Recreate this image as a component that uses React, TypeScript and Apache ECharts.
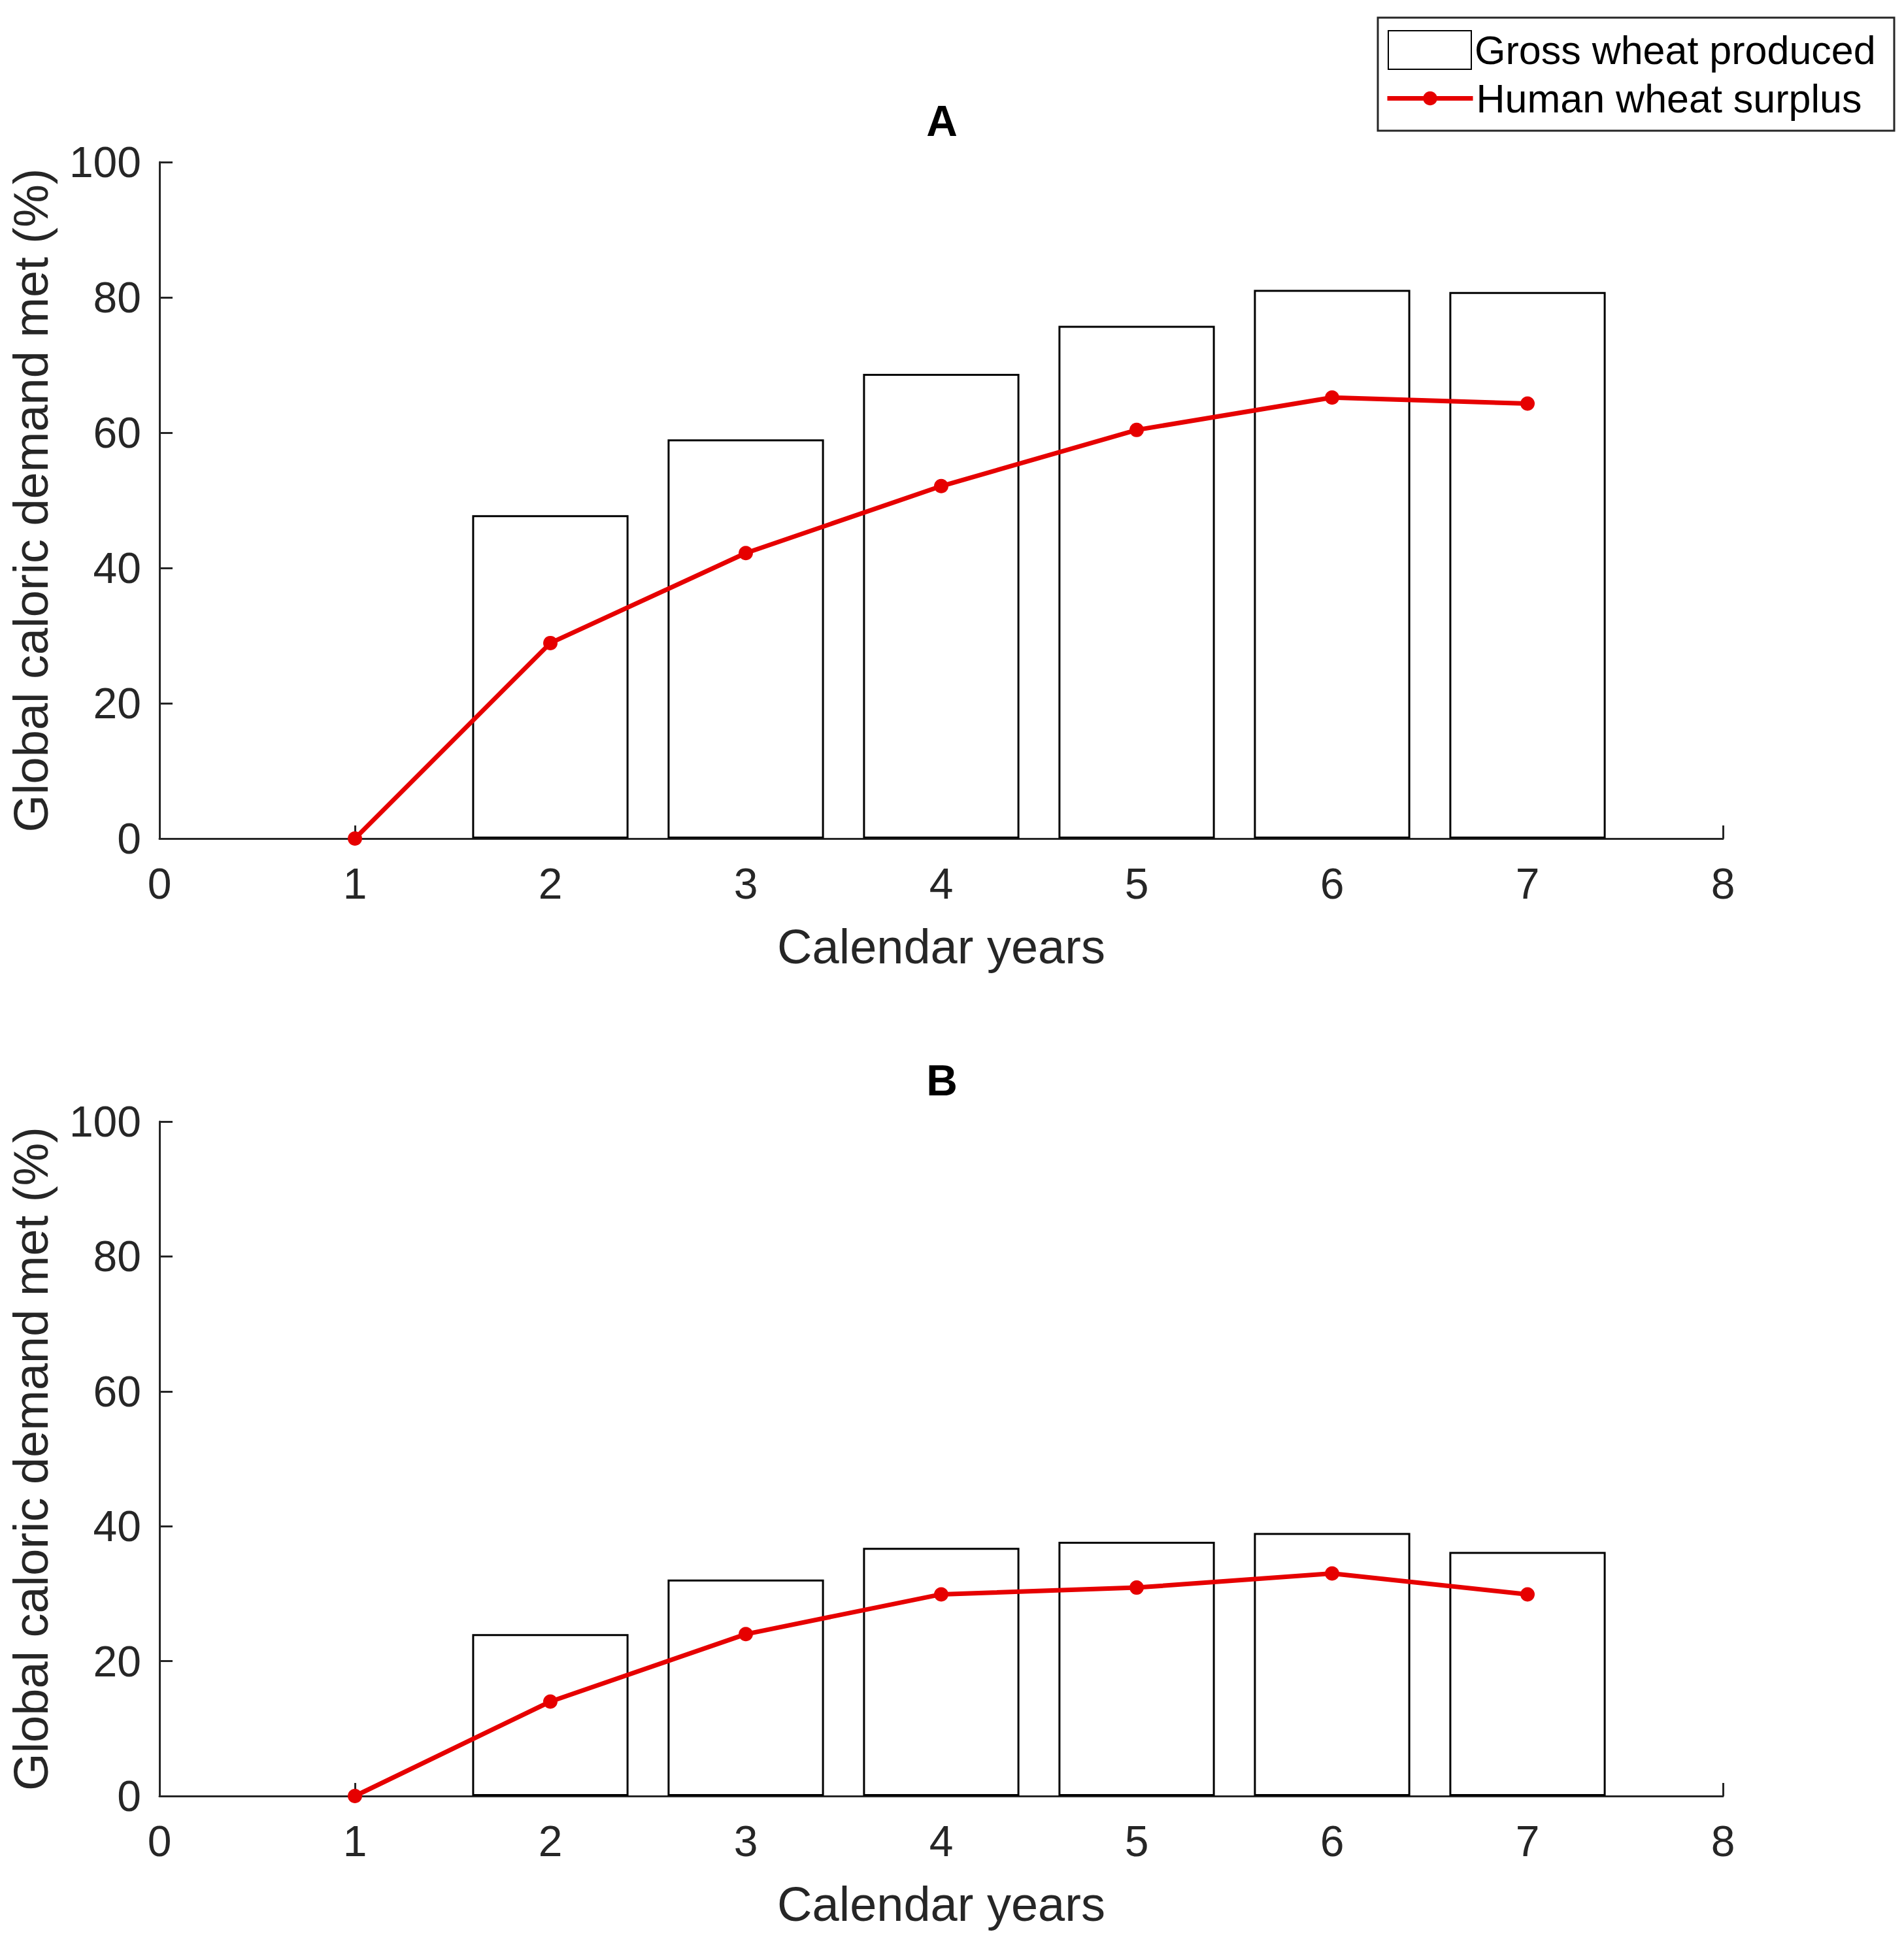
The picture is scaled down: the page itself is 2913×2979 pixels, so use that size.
import React, { useEffect, useRef } from "react";
import * as echarts from "echarts";

// data
const YEARS = [1, 2, 3, 4, 5, 6, 7];
const BAR_YEARS = [2, 3, 4, 5, 6, 7];
const GROSS_A = [47.8, 59.0, 68.7, 75.8, 81.1, 80.8];
const SURPLUS_A = [0, 28.9, 42.2, 52.1, 60.4, 65.2, 64.3];
const GROSS_B = [24.0, 32.1, 36.8, 37.7, 39.0, 36.2];
const SURPLUS_B = [0, 14.0, 24.0, 29.9, 30.9, 33.0, 29.9];
const PANELS = ["A", "B"];

const FONT = '"Liberation Sans", Arial, Helvetica, sans-serif';
const AXIS_COLOR = "#262626";
const RED = "#e60000";

const GRIDS = [
  { left: 244, top: 248, width: 2392, height: 1035 },
  { left: 244, top: 1716, width: 2392, height: 1032 },
];
const BAR_WIDTH = (0.8 * 2392) / 8;

const App: React.FC = () => {
  const chartRef = useRef<HTMLDivElement | null>(null);

  useEffect(() => {
    if (!chartRef.current) return;
    const chart = echarts.init(chartRef.current, undefined, { renderer: "svg" });

    const xAxes = GRIDS.map((_, i) => ({
      type: "value" as const,
      gridIndex: i,
      min: 0,
      max: 8,
      interval: 1,
      name: "Calendar years",
      nameLocation: "middle" as const,
      nameGap: 128,
      nameTextStyle: { fontSize: 74, color: AXIS_COLOR, fontFamily: FONT },
      axisLine: { show: true, onZero: false, lineStyle: { color: AXIS_COLOR, width: 3 } },
      axisTick: { show: true, inside: true, length: 20, lineStyle: { color: AXIS_COLOR, width: 3 } },
      axisLabel: { color: AXIS_COLOR, fontSize: 66, margin: 36, fontFamily: FONT },
      splitLine: { show: false },
    }));

    const yAxes = GRIDS.map((_, i) => ({
      type: "value" as const,
      gridIndex: i,
      min: 0,
      max: 100,
      interval: 20,
      name: "Global caloric demand met (%)",
      nameLocation: "middle" as const,
      nameGap: 160,
      nameTextStyle: { fontSize: 74, color: AXIS_COLOR, fontFamily: FONT },
      axisLine: { show: true, lineStyle: { color: AXIS_COLOR, width: 3 } },
      axisTick: { show: true, inside: true, length: 20, lineStyle: { color: AXIS_COLOR, width: 3 } },
      axisLabel: { color: AXIS_COLOR, fontSize: 66, margin: 28, fontFamily: FONT },
      splitLine: { show: false },
    }));

    const grossSets = [GROSS_A, GROSS_B];
    const surplusSets = [SURPLUS_A, SURPLUS_B];

    const series: any[] = [];
    GRIDS.forEach((_, i) => {
      series.push({
        name: "Gross wheat produced",
        type: "bar",
        xAxisIndex: i,
        yAxisIndex: i,
        barWidth: BAR_WIDTH,
        data: BAR_YEARS.map((x, k) => [x, grossSets[i][k]]),
        itemStyle: { color: "#ffffff", borderColor: "#000000", borderWidth: 3 },
      });
      series.push({
        name: "Human wheat surplus",
        type: "line",
        xAxisIndex: i,
        yAxisIndex: i,
        data: YEARS.map((x, k) => [x, surplusSets[i][k]]),
        symbol: "circle",
        symbolSize: 22,
        lineStyle: { color: RED, width: 7 },
        itemStyle: { color: RED },
        z: 5,
      });
    });

    chart.setOption({
      animation: false,
      backgroundColor: "#ffffff",
      textStyle: { fontFamily: FONT },
      title: PANELS.map((t, i) => ({
        text: t,
        left: 1441,
        top: i === 0 ? 152 : 1620,
        textAlign: "center",
        padding: 0,
        textStyle: { fontSize: 66, fontWeight: "bold", color: "#000000", fontFamily: FONT },
      })),
      grid: GRIDS.map((g) => ({ ...g, containLabel: false })),
      xAxis: xAxes,
      yAxis: yAxes,
      legend: [
        {
          data: [{ name: "Gross wheat produced", icon: "rect" }],
          left: 2123,
          top: 46,
          padding: 0,
          itemWidth: 127,
          itemHeight: 59,
          selectedMode: false,
          textStyle: { fontSize: 61, color: "#000000", fontFamily: FONT },
        },
        {
          data: ["Human wheat surplus"],
          left: 2119,
          top: 120,
          padding: 0,
          itemWidth: 131,
          itemHeight: 27,
          selectedMode: false,
          lineStyle: { width: 7, color: RED },
          textStyle: { fontSize: 61, color: "#000000", fontFamily: FONT },
        },
      ],
      graphic: [
        {
          type: "rect",
          shape: { x: 2108, y: 27, width: 790, height: 173 },
          style: { fill: "none", stroke: AXIS_COLOR, lineWidth: 3 },
          silent: true,
        },
      ],
      series,
    });

    return () => {
      chart.dispose();
    };
  }, []);

  return (
    <div
      ref={chartRef}
      style={{ position: "absolute", left: 0, top: 0, width: 2913, height: 2979, background: "#fff" }}
    />
  );
};

export default App;
